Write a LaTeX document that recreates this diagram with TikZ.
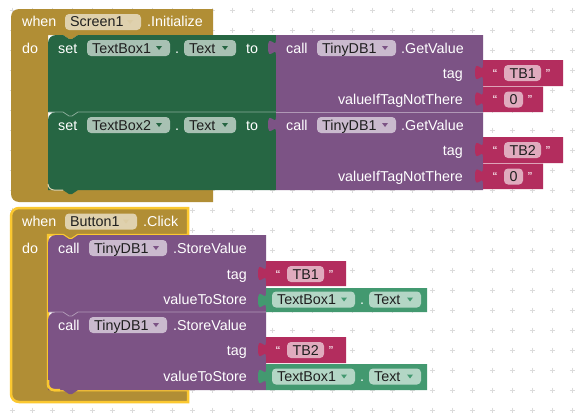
\documentclass[tikz,border=0pt]{standalone}
\usepackage{fontspec}
\setmainfont{Liberation Sans}
\definecolor{evgold}{HTML}{B18E35}
\definecolor{setgreen}{HTML}{266643}
\definecolor{callpurple}{HTML}{7C5385}
\definecolor{strred}{HTML}{B32D5E}
\definecolor{getgreen}{HTML}{439970}
\definecolor{selyellow}{HTML}{FBC830}
\newcommand\blkfont{\fontsize{14.3}{16}\selectfont}
\newcommand\qtfont{\fontsize{13}{14}\selectfont}
\tikzset{
  wt/.style={text=white, inner sep=0pt, anchor=base west, font=\blkfont},
  wtr/.style={wt, anchor=base east},
  bt/.style={text=black!88, inner sep=0pt, anchor=base west, font=\blkfont},
  qt/.style={text=white, inner sep=0pt, anchor=base, font=\qtfont},
  fieldbg/.style={fill=white, fill opacity=0.6, rounded corners=4pt},
  gridmark/.style={draw=black!14, line width=1pt},
}
% statement block: colour, x1, x2, ytop, ybottom
\newcommand\stmtblock[5]{%
  \fill[#1] (#2,#4+8) .. controls (#2,#4+3.6) and (#2+3.6,#4) .. (#2+8,#4)
    -- (#2+15,#4) -- (#2+21,#4+4) -- (#2+24,#4+4) -- (#2+30,#4) -- (#3,#4)
    -- (#3,#5) -- (#2+30,#5) -- (#2+24,#5+4) -- (#2+21,#5+4) -- (#2+15,#5)
    -- (#2,#5) -- cycle;}
% value block with output tab: colour, x1, x2, ytop, ybottom
\newcommand\valblock[5]{%
  \fill[#1] (#2,#4) -- (#3,#4) -- (#3,#5) -- (#2,#5) -- (#2,#4+20)
    .. controls (#2,#4+10) and (#2-8,#4+28) .. (#2-8,#4+12.5)
    .. controls (#2-8,#4-3) and (#2,#4+15) .. (#2,#4+5) -- cycle;}
% dropdown field: name, x1, x2, baseline, text, arrow colour
\newcommand\dropdown[6]{%
  \fill[fieldbg] (#2,#4-13) rectangle (#3,#4+3);
  \node[bt] (#1) at (#2+5,#4) {#5};
  \fill[#6] (#3-14,#4-7) -- (#3-8,#4-7) -- (#3-11,#4-3) -- cycle;}
% text string block: name, x1, x2, ytop, ybottom, field x2, baseline, text
\newcommand\strblock[8]{%
  \valblock{strred}{#2}{#3}{#4}{#5}
  \fill[fieldbg] (#2+21,#7-13) rectangle (#6,#7+3);
  \node[bt] (#1) at (#2+26.5,#7) {#8};
  \node[qt] (#1ql) at (#2+12,#7) {“};
  \node[qt] (#1qr) at (#6+7,#7) {”};}
% component getter block: name, x1, x2, ytop, ybottom, baseline
\newcommand\getblock[6]{%
  \valblock{getgreen}{#2}{#3}{#4}{#5}
  \dropdown{#1a}{#2+6}{#2+89}{#6}{TextBox1}{getgreen}
  \node[wt, anchor=base] (#1d) at (#2+96,#6) {.};
  \dropdown{#1b}{#2+103}{#2+155}{#6}{Text}{getgreen}}
\begin{document}
\begin{tikzpicture}[x=1pt,y=-1pt]
\useasboundingbox (0,0) rectangle (578,415);
\fill[white] (0,0) rectangle (578,415);
% grid
\foreach \i in {0,...,28}{
  \foreach \j in {0,...,20}{
    \draw[gridmark] (12+20*\i-2.5,10+20*\j) -- ++(5,0);
    \draw[gridmark] (12+20*\i,10+20*\j-2.5) -- ++(0,5);
  }}
% ================= Screen1.Initialize =================
\fill[evgold] (11,17) .. controls (11,12.6) and (14.6,9) .. (19,9) -- (213,9)
  -- (213,35) -- (78,35) -- (72,39) -- (69,39) -- (63,35) -- (48,35)
  -- (48,184) .. controls (48,187.3) and (50.7,190) .. (54,190) -- (213,190)
  -- (213,202) -- (19,202) .. controls (14.6,202) and (11,198.4) .. (11,194) -- cycle;
\node[wt] (when1) at (22,27) {when};
\dropdown{scr}{65}{141}{27}{Screen1}{evgold!45!white}
\node[wt] (init) at (147,27) {.Initialize};
\node[wt] (do1) at (22,53) {do};
% set blocks
\stmtblock{setgreen}{48}{276}{112}{190}
\stmtblock{setgreen}{48}{276}{35}{112}
\draw[setgreen!55!white, line width=0.8pt] (48.5,112) -- (63,112) -- (69,116) -- (72,116) -- (78,112) -- (276,112);
\draw[evgold!40!white, line width=1pt] (48,184) .. controls (48,187.3) and (50.7,190) .. (54,190) -- (63,190);
% set row 1
\node[wt] (set1) at (58,53) {set};
\dropdown{tb1}{87}{170}{53}{TextBox1}{setgreen}
\node[wt, anchor=base] (dot1) at (177,53) {.};
\dropdown{txt1}{184}{236}{53}{Text}{setgreen}
\node[wt] (to1) at (246,53) {to};
% set row 2
\node[wt] (set2) at (58,130) {set};
\dropdown{tb2}{87}{170}{130}{TextBox2}{setgreen}
\node[wt, anchor=base] (dot2) at (177,130) {.};
\dropdown{txt2}{184}{236}{130}{Text}{setgreen}
\node[wt] (to2) at (246,130) {to};
% GetValue blocks
\valblock{callpurple}{276}{483}{112}{190}
\valblock{callpurple}{276}{483}{35}{112}
\draw[callpurple!60!white, line width=0.8pt] (276,112) -- (483,112);
\node[wt] (call1) at (286,53) {call};
\dropdown{db1}{317}{396}{53}{TinyDB1}{callpurple}
\node[wt] (gv1) at (401,53) {.GetValue};
\node[wtr] (tag1) at (463,78) {tag};
\node[wtr] (vnt1) at (463,104.5) {valueIfTagNotThere};
\node[wt] (call2) at (286,130) {call};
\dropdown{db2}{317}{396}{130}{TinyDB1}{callpurple}
\node[wt] (gv2) at (401,130) {.GetValue};
\node[wtr] (tag2) at (463,155) {tag};
\node[wtr] (vnt2) at (463,181.5) {valueIfTagNotThere};
% strings
\strblock{s1}{483}{563}{60}{86}{541}{78}{TB1}
\strblock{s2}{483}{543}{86.5}{112}{523}{104.5}{0}
\strblock{s3}{483}{563}{137}{163}{541}{155}{TB2}
\strblock{s4}{483}{543}{163.5}{189}{523}{181.5}{0}
% ================= Button1.Click =================
\filldraw[fill=evgold, draw=selyellow, line width=2.5pt]
  (11,216) .. controls (11,211.6) and (14.6,208) .. (19,208) -- (188,208)
  -- (188,235) -- (78,235) -- (72,239) -- (69,239) -- (63,235) -- (48,235)
  -- (48,384) .. controls (48,387.3) and (50.7,390) .. (54,390) -- (188,390)
  -- (188,402) -- (19,402) .. controls (14.6,402) and (11,398.4) .. (11,394) -- cycle;
\node[wt] (when2) at (22,226.5) {when};
\dropdown{btn}{65}{137}{226.5}{Button1}{evgold!45!white}
\node[wt] (click) at (143,226.5) {.Click};
\node[wt] (do2) at (22,253) {do};
\stmtblock{callpurple}{48}{266}{312}{390}
\stmtblock{callpurple}{48}{266}{235}{312}
\draw[callpurple!60!white, line width=0.8pt] (48.5,312) -- (63,312) -- (69,316) -- (72,316) -- (78,312) -- (266,312);
\draw[selyellow, line width=2.5pt] (48,380) -- (48,384) .. controls (48,387.3) and (50.7,390) .. (54,390) -- (60,390);
\node[wt] (call3) at (58,253) {call};
\dropdown{db3}{89}{167}{253}{TinyDB1}{callpurple}
\node[wt] (sv1) at (173,253) {.StoreValue};
\node[wtr] (tag3) at (247,279) {tag};
\node[wtr] (vts1) at (247,304.5) {valueToStore};
\node[wt] (call4) at (58,330) {call};
\dropdown{db4}{89}{167}{330}{TinyDB1}{callpurple}
\node[wt] (sv2) at (173,330) {.StoreValue};
\node[wtr] (tag4) at (247,355) {tag};
\node[wtr] (vts2) at (247,381.5) {valueToStore};
\strblock{s5}{266}{346}{261}{286}{324}{279}{TB1}
\getblock{g1}{266}{427}{288}{312}{304.5}
\strblock{s6}{266}{346}{337}{363}{324}{355}{TB2}
\getblock{g2}{266}{427}{364}{390}{381.5}
\end{tikzpicture}
\end{document}
